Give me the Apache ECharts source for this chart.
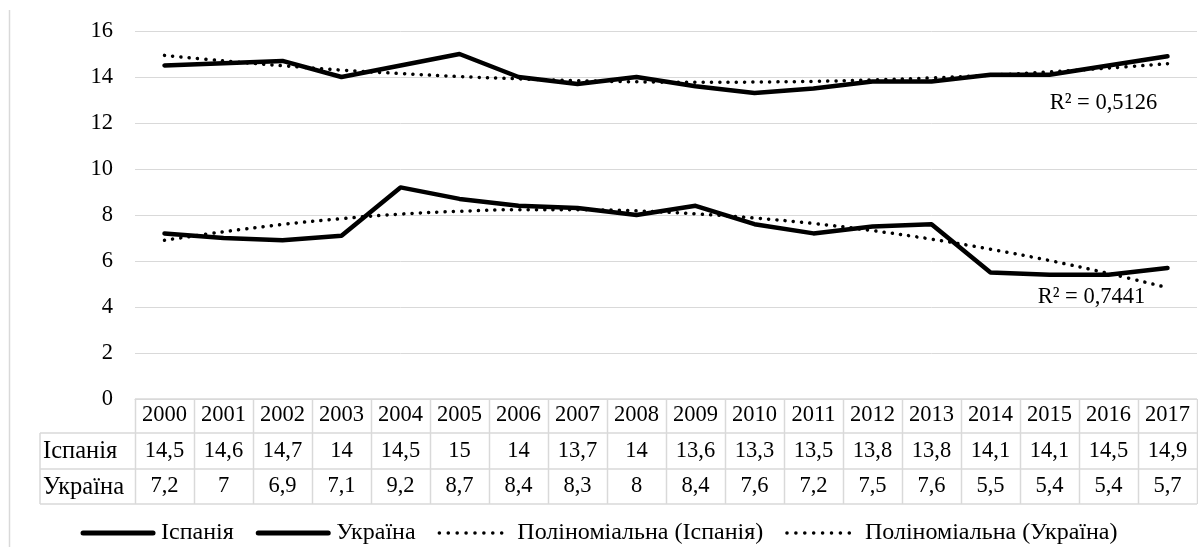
<!DOCTYPE html>
<html><head><meta charset="utf-8">
<script src="https://cdn.jsdelivr.net/npm/echarts@6/dist/echarts.min.js"></script>
<style>html,body{margin:0;padding:0;background:#fff}#c{width:1198px;height:547px}</style>
</head><body><div id="c"></div>
<script>
const years = ['2000','2001','2002','2003','2004','2005','2006','2007','2008','2009','2010','2011','2012','2013','2014','2015','2016','2017'];
const spain = [14.5,14.6,14.7,14,14.5,15,14,13.7,14,13.6,13.3,13.5,13.8,13.8,14.1,14.1,14.5,14.9];
const ukraine = [7.2,7,6.9,7.1,9.2,8.7,8.4,8.3,8,8.4,7.6,7.2,7.5,7.6,5.5,5.4,5.4,5.7];
const spainTrend = [14.94,14.70,14.49,14.30,14.15,14.02,13.92,13.84,13.79,13.77,13.78,13.81,13.87,13.96,14.08,14.22,14.39,14.58];
const ukraineTrend = [6.90,7.27,7.59,7.84,8.04,8.16,8.23,8.23,8.18,8.05,7.87,7.63,7.32,6.95,6.51,6.02,5.46,4.84];
const seriesNames = ['Іспанія','Україна','Поліноміальна (Іспанія)','Поліноміальна (Україна)'];
const rowNames = ['Іспанія','Україна'];
const r2Labels = ['R² = 0,5126','R² = 0,7441'];
const yMin = 0, yMax = 16, yStep = 2;

const FONT = '"Liberation Serif", "Times New Roman", serif';
const FS = 22.5;
const LFS = 24;
const TXT = '#000';
const GRID = '#d9d9d9';
const fmt = v => String(v).replace('.', ',');

const chart = echarts.init(document.getElementById('c'), null, {renderer:'canvas'});
const lbl = (m) => ({interval:0, fontFamily:FONT, fontSize:FS, color:TXT, margin:m});
const solid = {color:'#000', width:4.5, type:'solid', cap:'round', join:'round'};
const dotted = {color:'#000', width:3.5, type:[0.1, 8.2], cap:'round'};
const legendSolid = {color:'#000', width:5, type:'solid', cap:'round'};
const legendDotted = {color:'#000', width:3.5, type:[0.1, 8.8], cap:'round'};
const legTxt = {fontFamily:FONT, fontSize:LFS, color:TXT};

const option = {
  animation:false,
  backgroundColor:'#fff',
  textStyle:{fontFamily:FONT},
  grid:{left:135, right:1, top:31, bottom:148},
  xAxis:[
    {type:'category', data:years, position:'bottom', axisLine:{show:true, lineStyle:{color:GRID}}, axisTick:{show:false}, axisLabel:lbl(5), splitLine:{show:false}},
    {type:'category', data:spain.map(fmt), position:'bottom', offset:36, axisLine:{show:false}, axisTick:{show:false}, axisLabel:lbl(5)},
    {type:'category', data:ukraine.map(fmt), position:'bottom', offset:71, axisLine:{show:false}, axisTick:{show:false}, axisLabel:lbl(5)}
  ],
  yAxis:{type:'value', min:yMin, max:yMax, interval:yStep, axisLine:{show:false}, axisTick:{show:false},
    axisLabel:{fontFamily:FONT, fontSize:FS, color:TXT, margin:22},
    splitLine:{lineStyle:{color:GRID, width:1}}},
  legend:{
    data:[
      {name:seriesNames[0], lineStyle:legendSolid, textStyle:legTxt},
      {name:seriesNames[1], lineStyle:legendSolid, textStyle:legTxt},
      {name:seriesNames[2], lineStyle:legendDotted, textStyle:legTxt},
      {name:seriesNames[3], lineStyle:legendDotted, textStyle:legTxt}
    ],
    formatter: n => '{a|' + n + '}',
    top:516, left:'center', itemWidth:70, itemHeight:14, itemGap:22,
    itemStyle:{opacity:0},
    textStyle:{fontFamily:FONT, fontSize:LFS, color:TXT, rich:{a:{fontFamily:FONT, fontSize:LFS, color:TXT, padding:[0,0,0,3]}}}},
  series:[
    {name:seriesNames[0], type:'line', data:spain, symbol:'none', lineStyle:solid, itemStyle:{color:'#000'}, z:3},
    {name:seriesNames[1], type:'line', data:ukraine, symbol:'none', lineStyle:solid, itemStyle:{color:'#000'}, z:3},
    {name:seriesNames[2], type:'line', data:spainTrend, symbol:'none', smooth:0.4, lineStyle:dotted, itemStyle:{color:'#000'}, z:2},
    {name:seriesNames[3], type:'line', data:ukraineTrend, symbol:'none', smooth:0.4, lineStyle:dotted, itemStyle:{color:'#000'}, z:2}
  ]
};
chart.setOption(option);

// table borders and labels from axis scales
const px = i => chart.convertToPixel({xAxisIndex:0}, years[i]);
const py = v => chart.convertToPixel({yAxisIndex:0}, v);
const bw = px(1) - px(0);
const xL = px(0) - bw/2, xR = px(years.length-1) + bw/2;
const y0 = py(0);
const rowY = [y0, y0+34, y0+70, y0+105];
const labelLeft = 40;
const g = [];
const ln = (x1,y1,x2,y2) => g.push({type:'line', shape:{x1,y1,x2,y2}, style:{stroke:GRID, lineWidth:1.5}, z:1, silent:true});
ln(xL, rowY[0], xR, rowY[0]);
ln(labelLeft, rowY[1], xR, rowY[1]);
ln(labelLeft, rowY[2], xR, rowY[2]);
ln(labelLeft, rowY[3], xR, rowY[3]);
for (let k=0;k<=years.length;k++){ const x = Math.round(xL + k*bw)+0.5; ln(x, rowY[0], x, rowY[3]); }
ln(labelLeft, rowY[1], labelLeft, rowY[3]);
rowNames.forEach((n,i)=>g.push({type:'text', x:labelLeft+3, y:(rowY[i+1]+rowY[i+2])/2+1, style:{text:n, fontFamily:FONT, fontSize:24.5, fill:TXT, verticalAlign:'middle'}, z:5}));
// chart-area left border
g.push({type:'line', shape:{x1:9.5,y1:10,x2:9.5,y2:547}, style:{stroke:GRID, lineWidth:1.5}, silent:true});
// R² labels
const p1 = chart.convertToPixel({gridIndex:0}, [years[16], 12.87]);
const p2 = chart.convertToPixel({gridIndex:0}, [years[16], 4.43]);
g.push({type:'text', x:p1[0]-5, y:p1[1], style:{text:r2Labels[0], fontFamily:FONT, fontSize:FS, fill:TXT, align:'center', verticalAlign:'middle'}, z:5});
g.push({type:'text', x:p2[0]-17, y:p2[1], style:{text:r2Labels[1], fontFamily:FONT, fontSize:FS, fill:TXT, align:'center', verticalAlign:'middle'}, z:5});
chart.setOption({graphic:g});
</script></body></html>
